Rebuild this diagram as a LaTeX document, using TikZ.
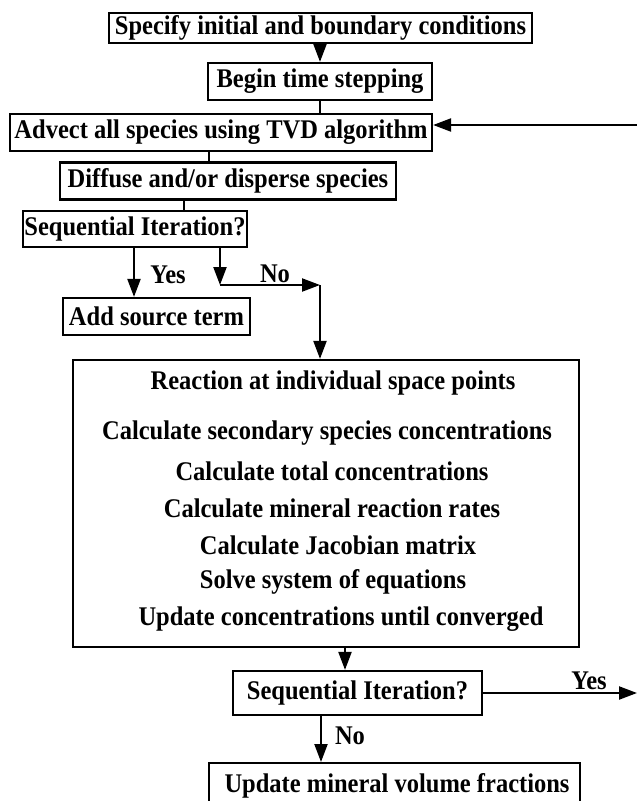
\documentclass[tikz,border=0pt]{standalone}
\usepackage{graphicx}
\usepackage{fontspec}
\setmainfont{Liberation Serif}
\usetikzlibrary{arrows.meta}
\newcommand{\tallt}[1]{\scalebox{1}[1.1]{#1}}
\begin{document}
\begin{tikzpicture}[x=1pt,y=-1pt,
  every node/.style={font=\fontsize{24.5pt}{29pt}\selectfont\bfseries, inner sep=0pt},
  flowbox/.style={draw, line width=2.2pt, minimum height=37pt},
  conn/.style={line width=2.2pt},
  arr/.style={line width=2.2pt, -{Triangle[length=18pt,width=13pt]}},
  lbl/.style={}]
\useasboundingbox (0,0) rectangle (637,801);
\clip (0,0) rectangle (637,801);
% boxes
\node[flowbox, minimum width=423pt, minimum height=30pt] (n1) at (320.5,28) {\tallt{Specify initial and boundary conditions}};
\node[flowbox, minimum width=224pt] (n2) at (320,81.5) {\tallt{Begin time stepping}};
\node[flowbox, minimum width=422pt] (n3) at (221,132.5) {\tallt{Advect all species using TVD algorithm}};
\node[flowbox, minimum width=336pt] (n4) at (228,181) {\tallt{Diffuse and/or disperse species}};
\node[flowbox, minimum width=224pt, minimum height=36pt] (n5) at (135,229) {\tallt{Sequential Iteration?}};
\node[flowbox, minimum width=187pt] (n6) at (156.5,316.5) {\tallt{Add source term}};
\node[flowbox, minimum width=506pt, minimum height=287pt] (n7) at (326,503.5) {};
\node (t1) at (333,383) {\tallt{Reaction at individual space points}};
\node (t2) at (327,433) {\tallt{Calculate secondary species concentrations}};
\node (t3) at (332,471) {\tallt{Calculate total concentrations}};
\node (t4) at (332,508) {\tallt{Calculate mineral reaction rates}};
\node (t5) at (338,545) {\tallt{Calculate Jacobian matrix}};
\node (t6) at (333,582) {\tallt{Solve system of equations}};
\node (t7) at (341,619) {\tallt{Update concentrations until converged}};
\node[flowbox, minimum width=249pt, minimum height=44pt] (n8) at (357.5,693) {\tallt{Sequential Iteration?}};
\node[flowbox, minimum width=371pt, minimum height=70pt, anchor=north] (n9) at (394.5,762) {};
\node (t8) at (397,786) {\tallt{Update mineral volume fractions}};
% labels
\node[lbl] (y1) at (168,275) {\tallt{Yes}};
\node[lbl] (o1) at (275,274) {\tallt{No}};
\node[lbl] (y2) at (589,681) {\tallt{Yes}};
\node[lbl] (o2) at (350,736) {\tallt{No}};
% helper coordinates
\coordinate (x134) at (134,0);
\coordinate (x184) at (184,0);
\coordinate (x209) at (209,0);
\coordinate (x220) at (220,0);
\coordinate (x321) at (321,0);
\coordinate (x345) at (345,0);
\coordinate (k1) at (220,285);
\coordinate (k2) at (320,285);
\coordinate (e1) at (637,693);
\coordinate (e2) at (637,125);
% connectors
\draw[arr] (n1.south -| n2.north) -- (n2.north);
\draw[conn] (n2.south) -- (n2.south |- n3.north);
\draw[conn] (n3.south -| x209) -- (n4.north -| x209);
\draw[conn] (n4.south -| x184) -- (n5.north -| x184);
\draw[arr] (n5.south -| x134) -- (n6.north -| x134);
\draw[arr] (n5.south -| x220) -- (k1);
\draw[arr] (k1) -- (k2);
\draw[arr] (k2) -- (n7.north -| k2);
\draw[arr] (n7.south -| x345) -- (n8.north -| x345);
\draw[arr] (n8.east) -- (e1);
\draw[arr] (n8.south -| x321) -- (n9.north -| x321);
\draw[arr] (e2) -- (n3.east |- e2);
\end{tikzpicture}
\end{document}
